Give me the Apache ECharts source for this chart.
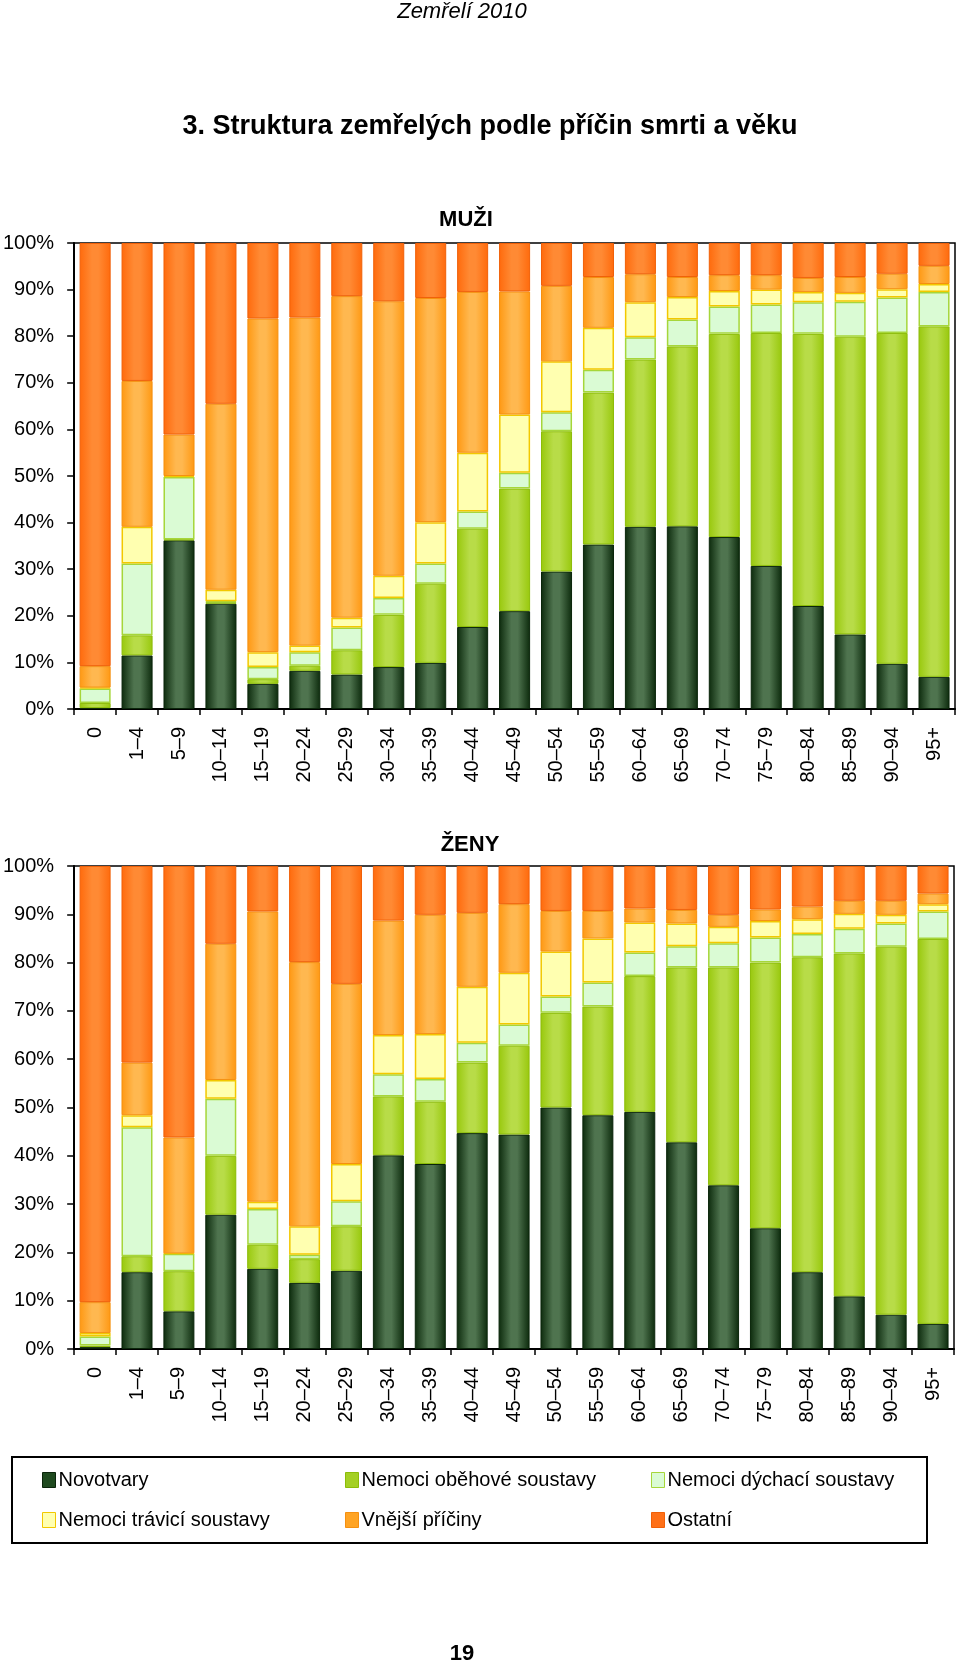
<!DOCTYPE html>
<html>
<head>
<meta charset="utf-8">
<script src="https://cdn.jsdelivr.net/npm/echarts@6/dist/echarts.min.js"></script>
<style>
html,body{margin:0;padding:0;background:#fff;}
#chart{width:960px;height:1666px;}
</style>
</head>
<body>
<div id="chart"></div>
<script>
const ageGroups = ['0','1–4','5–9','10–14','15–19','20–24','25–29','30–34','35–39','40–44','45–49','50–54','55–59','60–64','65–69','70–74','75–79','80–84','85–89','90–94','95+'];
const causeNames = ['Novotvary','Nemoci oběhové soustavy','Nemoci dýchací soustavy','Nemoci trávicí soustavy','Vnější příčiny','Ostatní'];
const yTickLabels = ['0%','10%','20%','30%','40%','50%','60%','70%','80%','90%','100%'];

// MUŽI (percent shares)
const muziNovotvary = [0.2, 11.5, 36.2, 22.6, 5.4, 8.2, 7.4, 9.0, 9.9, 17.6, 21.0, 29.5, 35.3, 39.1, 39.2, 36.9, 30.7, 22.1, 16.0, 9.7, 6.9];
const muziObehove   = [1.1, 4.3, 0.2, 0.3, 1.0, 1.1, 5.2, 11.2, 17.0, 21.1, 26.3, 30.1, 32.6, 35.9, 38.6, 43.6, 50.0, 58.4, 63.9, 71.0, 75.2];
const muziDychaci   = [3.1, 15.4, 13.4, 0.2, 2.6, 2.9, 4.9, 3.6, 4.3, 3.7, 3.4, 4.1, 4.9, 4.8, 5.8, 5.9, 6.1, 6.8, 7.5, 7.6, 7.4];
const muziTravici   = [0.2, 7.9, 0.2, 2.5, 3.2, 1.4, 2.1, 4.8, 8.9, 12.6, 12.5, 10.9, 9.0, 7.5, 4.8, 3.3, 3.2, 2.2, 1.9, 1.8, 1.7];
const muziVnejsi    = [4.6, 31.3, 8.9, 39.9, 71.6, 70.4, 69.0, 58.9, 48.1, 34.5, 26.4, 16.2, 10.9, 6.0, 4.3, 3.4, 3.1, 3.0, 3.4, 3.3, 3.9];
const muziOstatni   = [90.8, 29.6, 41.1, 34.5, 16.2, 16.0, 11.4, 12.5, 11.8, 10.5, 10.4, 9.2, 7.3, 6.7, 7.3, 6.9, 6.9, 7.5, 7.3, 6.6, 4.9];

// ŽENY (percent shares)
const zenyNovotvary = [0.4, 15.9, 7.8, 27.8, 16.6, 13.7, 16.2, 40.1, 38.3, 44.7, 44.4, 50.0, 48.4, 49.1, 42.8, 33.9, 25.0, 15.9, 10.9, 7.1, 5.2];
const zenyObehove   = [0.3, 3.3, 8.3, 12.2, 5.0, 4.9, 9.2, 12.2, 12.9, 14.6, 18.4, 19.6, 22.5, 28.1, 36.2, 45.1, 55.0, 65.2, 71.0, 76.2, 79.7];
const zenyDychaci   = [1.9, 26.7, 3.6, 11.8, 7.4, 0.9, 5.2, 4.6, 4.7, 4.1, 4.4, 3.4, 5.0, 4.9, 4.4, 5.0, 5.2, 4.8, 5.1, 4.8, 5.7];
const zenyTravici   = [0.7, 2.5, 0.1, 3.9, 1.5, 5.9, 7.7, 8.1, 9.3, 11.6, 10.7, 9.3, 9.1, 6.2, 4.7, 3.4, 3.4, 3.1, 3.1, 1.8, 1.5];
const zenyVnejsi    = [6.4, 10.9, 24.0, 28.2, 60.1, 54.7, 37.3, 23.7, 24.7, 15.3, 14.2, 8.4, 5.7, 2.9, 2.8, 2.5, 2.4, 2.6, 2.7, 2.9, 2.2];
const zenyOstatni   = [90.3, 40.7, 56.2, 16.1, 9.4, 19.9, 24.4, 11.3, 10.1, 9.7, 7.9, 9.3, 9.3, 8.8, 9.1, 10.1, 9.0, 8.4, 7.2, 7.2, 5.7];

const muziData = [muziNovotvary, muziObehove, muziDychaci, muziTravici, muziVnejsi, muziOstatni];
const zenyData = [zenyNovotvary, zenyObehove, zenyDychaci, zenyTravici, zenyVnejsi, zenyOstatni];

function grad(edge, mid) {
  return new echarts.graphic.LinearGradient(0, 0, 1, 0, [
    {offset: 0, color: edge},
    {offset: 0.4, color: mid},
    {offset: 0.6, color: mid},
    {offset: 1, color: edge}
  ]);
}
const styles = [
  {color: grad('#0c2a0c', '#4f744f'), borderColor: '#0a250a', borderWidth: 1},
  {color: grad('#98c80c', '#b8dc48'), borderColor: '#8cbc08', borderWidth: 1},
  {color: '#dafbd4', borderColor: '#a6d63a', borderWidth: 1.5},
  {color: '#ffffb0', borderColor: '#f2c800', borderWidth: 1.5},
  {color: grad('#ff9812', '#ffb850'), borderColor: '#f59010', borderWidth: 1},
  {color: grad('#ff6a0c', '#ff8a34'), borderColor: '#f06008', borderWidth: 1}
];
const legendColors = ['#1f4a1f', '#a4d024', '#dafbd4', '#ffffb0', '#ffa424', '#ff7018'];

const FONT = '"Liberation Sans", Arial, sans-serif';

function xAxis(gridIndex) {
  return {
    type: 'category', gridIndex, data: ageGroups,
    axisLine: {lineStyle: {color: '#000', width: 2}},
    axisTick: {show: true, length: 6, lineStyle: {color: '#000', width: 1.5}},
    axisLabel: {rotate: 90, fontSize: 20, color: '#000', fontFamily: FONT, margin: 18, interval: 0}
  };
}
function yAxis(gridIndex) {
  return {
    type: 'value', gridIndex, min: 0, max: 100, interval: 10,
    axisLine: {show: true, lineStyle: {color: '#000', width: 2}},
    axisTick: {show: true, length: 7, lineStyle: {color: '#000', width: 1.5}},
    splitLine: {show: false},
    axisLabel: {fontSize: 20, color: '#000', fontFamily: FONT, margin: 20,
      formatter: v => yTickLabels[Math.round(v / 10)]}
  };
}

const series = [];
[muziData, zenyData].forEach((dataSet, gi) => {
  dataSet.forEach((vals, si) => {
    series.push({
      name: causeNames[si], type: 'bar', stack: 'g' + gi,
      xAxisIndex: gi, yAxisIndex: gi,
      barCategoryGap: '26%',
      data: vals,
      itemStyle: styles[si],
      emphasis: {disabled: true},
      animation: false
    });
  });
});

function legend(left, names) {
  return {
    orient: 'vertical', left, top: 1465, itemGap: 20,
    itemWidth: 13, itemHeight: 15, icon: 'rect',
    data: names.map(n => ({name: n, itemStyle: {color: legendColors[causeNames.indexOf(n)],
      borderColor: styles[causeNames.indexOf(n)].borderColor, borderWidth: 1}})),
    textStyle: {fontSize: 20, color: '#000', fontFamily: FONT, lineHeight: 20, padding: [0, 0, 0, -2]},
    selectedMode: false
  };
}

const chart = echarts.init(document.getElementById('chart'), null, {renderer: 'canvas'});
chart.setOption({
  backgroundColor: '#fff',
  animation: false,
  grid: [
    {left: 71, right: 5, top: 243, height: 466, show: true, borderColor: '#000', borderWidth: 1.5},
    {left: 74, right: 6, top: 866, height: 483, show: true, borderColor: '#000', borderWidth: 1.5}
  ],
  xAxis: [xAxis(0), xAxis(1)],
  yAxis: [yAxis(0), yAxis(1)],
  series,
  legend: [
    legend(37, ['Novotvary', 'Nemoci trávicí soustavy']),
    legend(340, ['Nemoci oběhové soustavy', 'Vnější příčiny']),
    legend(646, ['Nemoci dýchací soustavy', 'Ostatní'])
  ],
  graphic: [
    {type: 'text', x: 462, y: 12, style: {text: 'Zemřelí 2010', font: 'italic 22px ' + FONT, fill: '#000', textAlign: 'center', textVerticalAlign: 'middle'}},
    {type: 'text', x: 490, y: 127, style: {text: '3. Struktura zemřelých podle příčin smrti a věku', font: 'bold 27px ' + FONT, fill: '#000', textAlign: 'center', textVerticalAlign: 'middle'}},
    {type: 'text', x: 466, y: 220, style: {text: 'MUŽI', font: 'bold 22px ' + FONT, fill: '#000', textAlign: 'center', textVerticalAlign: 'middle'}},
    {type: 'text', x: 470, y: 845, style: {text: 'ŽENY', font: 'bold 22px ' + FONT, fill: '#000', textAlign: 'center', textVerticalAlign: 'middle'}},
    {type: 'rect', shape: {x: 12, y: 1457, width: 915, height: 86}, style: {fill: 'none', stroke: '#000', lineWidth: 2}},
    {type: 'text', x: 462, y: 1654, style: {text: '19', font: 'bold 22px ' + FONT, fill: '#000', textAlign: 'center', textVerticalAlign: 'middle'}}
  ]
});
</script>
</body>
</html>
